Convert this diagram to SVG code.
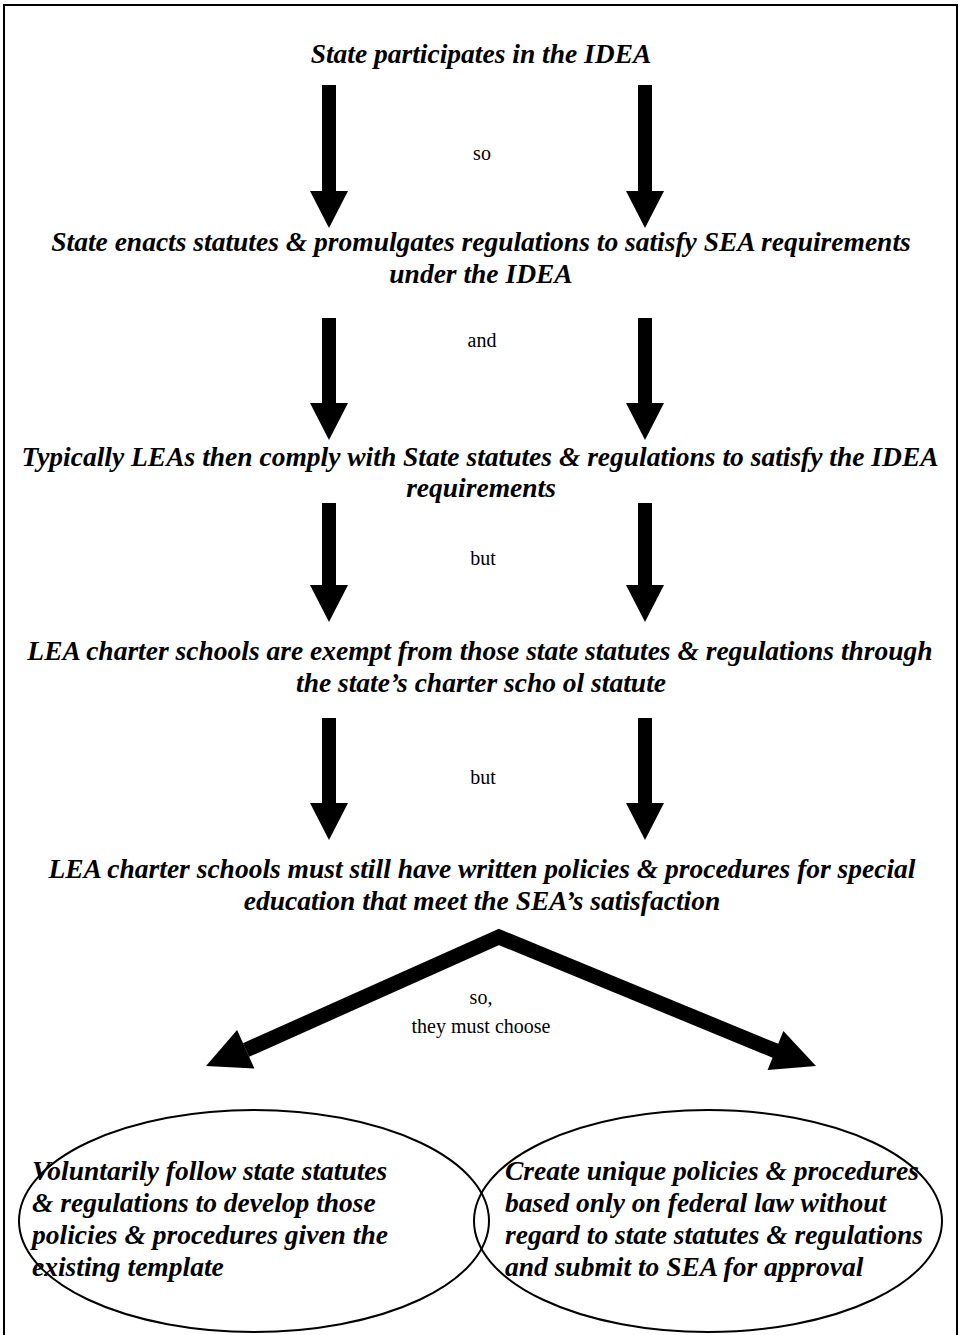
<svg xmlns="http://www.w3.org/2000/svg" width="962" height="1335" viewBox="0 0 962 1335">
  <defs>
    <style>
      .main { font-family: "Liberation Serif", "Times New Roman", serif; font-weight: bold; font-style: italic; font-size: 27.5px; fill: #000; }
      .lbl { font-family: "Liberation Serif", "Times New Roman", serif; font-size: 20px; fill: #000; }
      .frame { fill: none; stroke: #000; stroke-width: 2; }
      .oval { fill: none; stroke: #000; stroke-width: 2; }
      .shaft { fill: #000; }
    </style>
    <path id="vhead" d="M-19,-37 H19 L0,0 Z" fill="#000"/>
  </defs>
  <rect width="962" height="1335" fill="#fff"/>
  <path class="frame" d="M4,1335 V5 H957 V1335"/>

  <g id="node1"><text class="main" x="481" y="63" text-anchor="middle">State participates in the IDEA</text></g>
  <g id="node2">
    <text class="main" x="481" y="251" text-anchor="middle">State enacts statutes &amp; promulgates regulations to satisfy SEA requirements</text>
    <text class="main" x="481" y="283" text-anchor="middle">under the IDEA</text>
  </g>
  <g id="node3">
    <text class="main" x="480" y="466" text-anchor="middle">Typically LEAs then comply with State statutes &amp; regulations to satisfy the IDEA</text>
    <text class="main" x="481" y="497" text-anchor="middle">requirements</text>
  </g>
  <g id="node4">
    <text class="main" x="480" y="660" text-anchor="middle">LEA charter schools are exempt from those state statutes &amp; regulations through</text>
    <text class="main" x="481" y="692" text-anchor="middle">the state’s charter scho ol statute</text>
  </g>
  <g id="node5">
    <text class="main" x="482" y="878" text-anchor="middle">LEA charter schools must still have written policies &amp; procedures for special</text>
    <text class="main" x="482" y="910" text-anchor="middle">education that meet the SEA’s satisfaction</text>
  </g>
  <g id="node6">
    <ellipse class="oval" cx="254" cy="1221" rx="235" ry="111"/>
    <text class="main" x="32" y="1180">Voluntarily follow state statutes</text>
    <text class="main" x="32" y="1212">&amp; regulations to develop those</text>
    <text class="main" x="32" y="1244">policies &amp; procedures given the</text>
    <text class="main" x="32" y="1276">existing template</text>
  </g>
  <g id="node7">
    <ellipse class="oval" cx="708" cy="1221" rx="234" ry="111"/>
    <text class="main" x="505" y="1180">Create unique policies &amp; procedures</text>
    <text class="main" x="505" y="1212">based only on federal law without</text>
    <text class="main" x="505" y="1244">regard to state statutes &amp; regulations</text>
    <text class="main" x="505" y="1276">and submit to SEA for approval</text>
  </g>

  <g id="connectors">
    <rect class="shaft" x="322" y="85" width="14" height="108"/>
    <use href="#vhead" x="329" y="228"/>
    <rect class="shaft" x="638" y="85" width="14" height="108"/>
    <use href="#vhead" x="645" y="228"/>
    <text class="lbl" x="482" y="160" text-anchor="middle">so</text>
    <rect class="shaft" x="322" y="318" width="14" height="87"/>
    <use href="#vhead" x="329" y="440"/>
    <rect class="shaft" x="638" y="318" width="14" height="87"/>
    <use href="#vhead" x="645" y="440"/>
    <text class="lbl" x="482" y="347" text-anchor="middle">and</text>
    <rect class="shaft" x="322" y="503" width="14" height="84"/>
    <use href="#vhead" x="329" y="622"/>
    <rect class="shaft" x="638" y="503" width="14" height="84"/>
    <use href="#vhead" x="645" y="622"/>
    <text class="lbl" x="483" y="565" text-anchor="middle">but</text>
    <rect class="shaft" x="322" y="718" width="14" height="87"/>
    <use href="#vhead" x="329" y="840"/>
    <rect class="shaft" x="638" y="718" width="14" height="87"/>
    <use href="#vhead" x="645" y="840"/>
    <text class="lbl" x="483" y="784" text-anchor="middle">but</text>
    <path d="M246,1050 L499,937 L776,1051" fill="none" stroke="#000" stroke-width="15" stroke-linejoin="miter" stroke-miterlimit="10"/>
    <polygon points="206,1066 254.4,1068.5 237.1,1030" fill="#000"/>
    <polygon points="816,1066 767.6,1070 783.4,1031" fill="#000"/>
    <text class="lbl" x="481" y="1004" text-anchor="middle">so,</text>
    <text class="lbl" x="481" y="1033" text-anchor="middle">they must choose</text>
  </g>
</svg>
